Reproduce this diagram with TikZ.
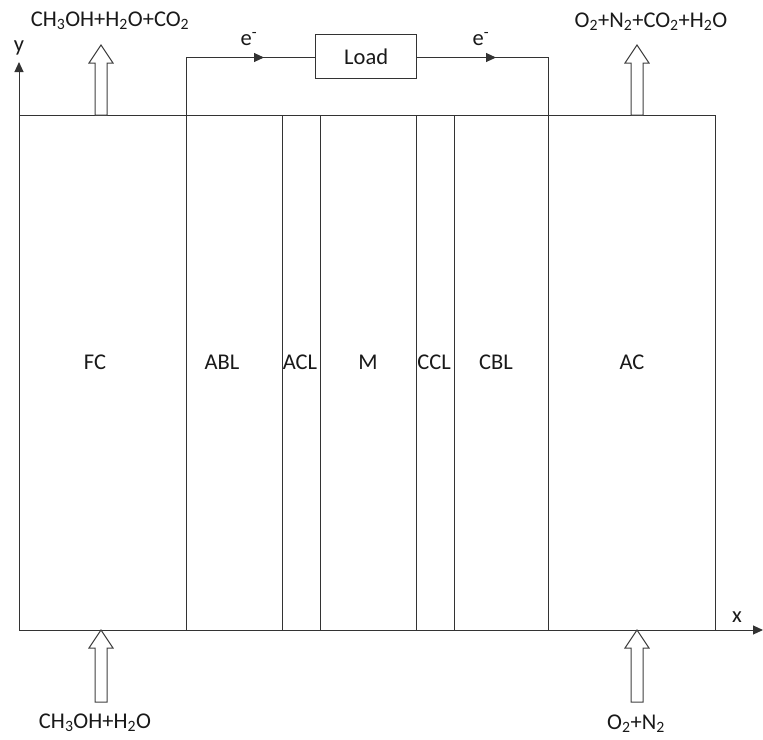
\documentclass[tikz,border=0pt]{standalone}
\usepackage{fontspec}
\setmainfont{Carlito}
\usetikzlibrary{arrows.meta}
\tikzset{
  ln/.style={draw=black!80, line width=1pt},
  lbl/.style={font=\fontsize{22.5}{26}\selectfont, text=black!90, inner sep=0pt},
  hollow/.style={draw=black!75, line width=1pt, fill=white},
  tipline/.style={ln, -{Triangle[length=10pt,width=9pt]}}
}
\newcommand{\sbs}[1]{\textsubscript{#1}}
\begin{document}
\begin{tikzpicture}[x=1pt,y=-1pt]
\useasboundingbox (0,0) rectangle (763,739);
% layer boundaries
\foreach \n/\x in {l0/19,l1/186,l2/282,l3/320,l4/416,l5/454,l6/548,l7/715}{
  \coordinate (\n t) at (\x,115);
  \coordinate (\n b) at (\x,630);
}
\draw[ln] (l0t) -- (l7t);
\draw[ln] (l0b) -- (l7b);
\foreach \n in {l1,l2,l3,l4,l5,l6,l7}{ \draw[ln] (\n t) -- (\n b); }
% axes
\coordinate (ytip) at (19,62);
\coordinate (xtip) at (763,630);
\draw[tipline] (l0b) -- (ytip);
\draw[tipline] (l7b) -- (xtip);
\node[lbl] (ylab) at (19,48) {y};
\node[lbl] (xlab) at (737,617) {x};
% layer labels
\node[lbl] (FC) at (95,362) {FC};
\node[lbl] (ABL) at (222,362) {ABL};
\node[lbl] (ACL) at (300,362) {ACL};
\node[lbl] (M) at (368,362) {M};
\node[lbl] (CCL) at (434,362) {CCL};
\node[lbl] (CBL) at (496,362) {CBL};
\node[lbl] (AC) at (632,362) {AC};
% external circuit
\node[ln, lbl, minimum width=101pt, minimum height=44pt, inner sep=0pt] (load) at (366.2,56.3) {Load};
\coordinate (w1) at (186,57.5);
\coordinate (w2) at (548,57.5);
\coordinate (a1) at (264,57.5);
\coordinate (a2) at (496,57.5);
\coordinate (lw) at (load.west |- w1);
\coordinate (le) at (load.east |- w1);
\draw[ln] (l1t) -- (w1) -- (lw);
\draw[tipline] (w1) -- (a1);
\draw[ln] (le) -- (w2) -- (l6t);
\draw[tipline] (le) -- (a2);
\node[lbl] (e1) at (249,39) {e\textsuperscript{-}};
\node[lbl] (e2) at (481,39) {e\textsuperscript{-}};
% hollow arrows
\newcommand{\hollowup}[3]{% x, base y, tip y
  \draw[hollow] (#1-6,#2) -- (#1-6,#3+18) -- (#1-12,#3+18) -- (#1,#3) -- (#1+12,#3+18) -- (#1+6,#3+18) -- (#1+6,#2) -- cycle;}
\hollowup{101}{115}{45}
\hollowup{637}{115}{45}
\hollowup{101}{702}{630}
\hollowup{637}{702}{630}
% species labels
\node[lbl] (top1) at (110,21) {CH\sbs{3}OH+H\sbs{2}O+CO\sbs{2}};
\node[lbl] (top2) at (651,22) {O\sbs{2}+N\sbs{2}+CO\sbs{2}+H\sbs{2}O};
\node[lbl] (bot1) at (95,723) {CH\sbs{3}OH+H\sbs{2}O};
\node[lbl] (bot2) at (636,724) {O\sbs{2}+N\sbs{2}};
\end{tikzpicture}
\end{document}
